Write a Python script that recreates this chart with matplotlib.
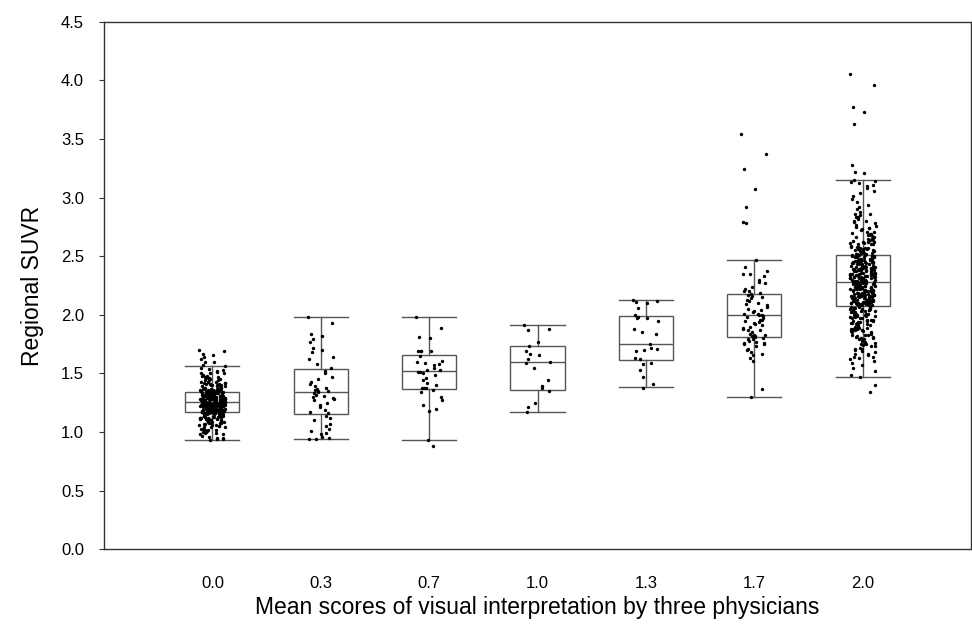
import matplotlib
matplotlib.use("Agg")
import matplotlib.pyplot as plt
import numpy as np

plt.rcParams["font.family"] = ["Liberation Sans", "DejaVu Sans"]

# categories (mean visual score)
categories = ["0.0", "0.3", "0.7", "1.0", "1.3", "1.7", "2.0"]

# box statistics: whislo, q1, med, q3, whishi
box_whislo = [0.935, 0.938, 0.932, 1.168, 1.382, 1.299, 1.472]
box_q1     = [1.173, 1.154, 1.365, 1.359, 1.612, 1.811, 2.073]
box_med    = [1.253, 1.339, 1.521, 1.595, 1.754, 1.996, 2.277]
box_q3     = [1.341, 1.538, 1.660, 1.731, 1.987, 2.180, 2.508]
box_whishi = [1.565, 1.981, 1.981, 1.913, 2.126, 2.468, 3.147]

# individual regional SUVR values per group
suvr_00 = [
    1.70, 1.69, 1.67, 1.66, 1.64, 1.62, 1.60, 1.60,
    1.57, 1.56, 1.55, 1.54, 1.53, 1.52, 1.51, 1.50, 1.50, 1.49, 1.48, 1.48,
    1.47, 1.46, 1.46, 1.45, 1.45, 1.44, 1.44, 1.43, 1.43, 1.42, 1.42, 1.42,
    1.41, 1.41, 1.40, 1.40, 1.40, 1.39, 1.39, 1.39, 1.38, 1.38, 1.38, 1.37,
    1.37, 1.37, 1.37, 1.36, 1.36, 1.36, 1.36, 1.35, 1.35, 1.35, 1.35, 1.35,
    1.34, 1.34, 1.34, 1.34, 1.34,
    1.33, 1.33, 1.33, 1.33, 1.33, 1.33, 1.33, 1.32, 1.32, 1.32, 1.32, 1.32,
    1.32, 1.32, 1.31, 1.31, 1.31, 1.31, 1.31, 1.31, 1.31, 1.30, 1.30, 1.30,
    1.30, 1.30, 1.30, 1.30, 1.29, 1.29, 1.29, 1.29, 1.29, 1.29, 1.29, 1.28,
    1.28, 1.28, 1.28, 1.28, 1.28, 1.28, 1.27, 1.27, 1.27, 1.27, 1.27, 1.27,
    1.26, 1.26, 1.26, 1.26, 1.26, 1.26, 1.25, 1.25, 1.25, 1.25, 1.25, 1.25,
    1.24, 1.24, 1.24, 1.24, 1.24, 1.24, 1.24, 1.23, 1.23, 1.23, 1.23, 1.23,
    1.23, 1.23, 1.22, 1.22, 1.22, 1.22, 1.22, 1.22, 1.22, 1.21, 1.21, 1.21,
    1.21, 1.21, 1.21, 1.21, 1.20, 1.20, 1.20, 1.20, 1.20, 1.20, 1.20, 1.19,
    1.19, 1.19, 1.19, 1.19, 1.19, 1.19, 1.18, 1.18, 1.18, 1.18, 1.18, 1.18,
    1.17, 1.17, 1.17, 1.17, 1.17, 1.17,
    1.17, 1.16, 1.16, 1.16, 1.16, 1.16, 1.15, 1.15, 1.15, 1.15, 1.15, 1.14,
    1.14, 1.14, 1.14, 1.13, 1.13, 1.13, 1.13, 1.12, 1.12, 1.12, 1.11, 1.11,
    1.11, 1.10, 1.10, 1.10, 1.09, 1.09, 1.08, 1.08, 1.08, 1.07, 1.07, 1.06,
    1.06, 1.05, 1.05, 1.04, 1.04, 1.03, 1.03, 1.02, 1.02, 1.01, 1.00, 1.00,
    0.99, 0.99, 0.98, 0.97, 0.96, 0.95, 0.95, 0.94, 0.94, 0.93,
    1.26, 1.27, 1.24, 1.29, 1.21, 1.31, 1.19, 1.33, 1.23, 1.28, 1.25, 1.30,
    1.22, 1.26, 1.35, 1.18, 1.27, 1.24, 1.32, 1.20, 1.29, 1.25, 1.37, 1.16,
    1.28, 1.23, 1.30, 1.21, 1.26, 1.34, 1.14, 1.27, 1.22, 1.39, 1.19, 1.25,
    1.31, 1.24, 1.12, 1.28, 1.26, 1.36, 1.17, 1.29, 1.23, 1.41, 1.20, 1.27,
    1.10, 1.33, 1.25, 1.22, 1.30, 1.15, 1.28, 1.44, 1.24, 1.08, 1.26, 1.32,
    1.21, 1.27, 1.38, 1.19, 1.25, 1.06, 1.29, 1.23, 1.47, 1.13, 1.31, 1.26,
    1.18, 1.35, 1.22, 1.04, 1.28, 1.24, 1.40, 1.16, 1.27, 1.20, 1.33, 1.11,
    1.25, 1.30, 1.02, 1.23, 1.43, 1.26, 1.17, 1.29, 1.21, 1.36, 1.09, 1.28,
    1.24, 1.50, 0.98, 1.25,
]
suvr_03 = [
    1.98, 1.93, 1.84, 1.82, 1.79, 1.77, 1.72, 1.70, 1.68, 1.64, 1.62, 1.58,
    1.55, 1.52, 1.50, 1.47, 1.45, 1.43, 1.41, 1.39, 1.38, 1.37, 1.36, 1.35,
    1.35, 1.34, 1.33, 1.32, 1.31, 1.30, 1.29, 1.28, 1.27, 1.25, 1.23, 1.21,
    1.19, 1.17, 1.16, 1.14, 1.12, 1.10, 1.07, 1.05, 1.03, 1.01, 0.99, 0.98,
    0.96, 0.95, 0.94, 0.94,
]
suvr_07 = [
    1.98, 1.89, 1.81, 1.80, 1.69, 1.69, 1.69, 1.69, 1.65, 1.61, 1.60, 1.59,
    1.58, 1.57, 1.55, 1.53, 1.53, 1.51, 1.51, 1.50, 1.49, 1.46, 1.44, 1.42,
    1.40, 1.38, 1.38, 1.38, 1.36, 1.34, 1.30, 1.27, 1.23, 1.20, 1.18, 0.93,
    0.88,
]
suvr_10 = [
    1.91, 1.88, 1.87, 1.77, 1.73, 1.69, 1.67, 1.66, 1.62, 1.60, 1.59, 1.55,
    1.44, 1.39, 1.38, 1.35, 1.25, 1.21, 1.17,
]
suvr_13 = [
    2.13, 2.12, 2.11, 2.10, 2.06, 2.00, 1.98, 1.97, 1.97, 1.95, 1.88, 1.85,
    1.84, 1.75, 1.72, 1.71, 1.70, 1.69, 1.63, 1.62, 1.59, 1.58, 1.53, 1.47,
    1.41, 1.38,
]
suvr_17 = [
    3.54, 3.37, 3.24, 3.07, 2.92, 2.79, 2.78,
    2.47, 2.41, 2.37, 2.35, 2.35, 2.33, 2.30, 2.28, 2.27, 2.24, 2.22, 2.20,
    2.20, 2.19, 2.18, 2.17, 2.16, 2.15, 2.14, 2.13, 2.12, 2.10, 2.09, 2.08,
    2.07, 2.05, 2.04, 2.03, 2.02, 2.01, 2.01, 2.00, 2.00, 1.99, 1.98, 1.97,
    1.96, 1.96, 1.95, 1.94, 1.93, 1.92, 1.91, 1.90, 1.89, 1.88, 1.87, 1.87,
    1.85, 1.84, 1.83, 1.83, 1.82, 1.82, 1.81, 1.80, 1.79, 1.79, 1.78, 1.77,
    1.76, 1.76, 1.75, 1.75, 1.73, 1.71, 1.70, 1.68, 1.67, 1.66, 1.63, 1.61,
    1.37, 1.30,
]
suvr_20 = [
    4.05, 3.96, 3.77, 3.73, 3.63, 3.28, 3.22, 3.21,
    3.15, 3.14, 3.13, 3.12, 3.11, 3.10, 3.08, 3.06, 3.04, 3.01, 2.99, 2.96,
    2.94, 2.92, 2.90, 2.88, 2.86, 2.85, 2.83, 2.82, 2.80, 2.79, 2.78, 2.76,
    2.75, 2.74, 2.73, 2.72, 2.71, 2.70, 2.69, 2.68, 2.67, 2.66, 2.65, 2.65,
    2.64, 2.63, 2.62, 2.62, 2.61, 2.60, 2.60, 2.59, 2.58, 2.58, 2.57, 2.57,
    2.56, 2.56, 2.55, 2.55, 2.54, 2.54, 2.53, 2.53, 2.52, 2.52, 2.51, 2.51,
    2.50, 2.50, 2.50, 2.49, 2.49, 2.49, 2.48, 2.48, 2.48, 2.47, 2.47, 2.47,
    2.46, 2.46, 2.46, 2.45, 2.45, 2.45, 2.44, 2.44, 2.44, 2.43, 2.43, 2.43,
    2.42, 2.42, 2.42, 2.41, 2.41, 2.41, 2.40, 2.40, 2.40, 2.39, 2.39, 2.39,
    2.38, 2.38, 2.38, 2.37, 2.37, 2.37, 2.36, 2.36, 2.36, 2.35, 2.35, 2.35,
    2.34, 2.34, 2.34, 2.33, 2.33, 2.33, 2.32, 2.32, 2.32, 2.31, 2.31, 2.31,
    2.30, 2.30, 2.30, 2.29, 2.29, 2.29, 2.28, 2.28, 2.28,
    2.27, 2.27, 2.27, 2.26, 2.26, 2.26, 2.25, 2.25, 2.25, 2.24, 2.24, 2.24,
    2.23, 2.23, 2.23, 2.22, 2.22, 2.22, 2.21, 2.21, 2.21, 2.20, 2.20, 2.20,
    2.19, 2.19, 2.19, 2.18, 2.18, 2.18, 2.17, 2.17, 2.17, 2.16, 2.16, 2.16,
    2.16, 2.15, 2.15, 2.15, 2.15, 2.14, 2.14, 2.14, 2.14, 2.13, 2.13, 2.13,
    2.13, 2.12, 2.12, 2.12, 2.12, 2.11, 2.11, 2.11, 2.11, 2.10, 2.10, 2.10,
    2.10, 2.09, 2.09, 2.09, 2.09, 2.08, 2.08, 2.08, 2.08,
    2.07, 2.07, 2.06, 2.06, 2.05, 2.05, 2.04, 2.04, 2.03, 2.03, 2.02, 2.02,
    2.01, 2.01, 2.00, 2.00, 1.99, 1.99, 1.98, 1.98, 1.97, 1.97, 1.96, 1.96,
    1.95, 1.95, 1.94, 1.93, 1.93, 1.92, 1.92, 1.91, 1.90, 1.90, 1.89, 1.88,
    1.88, 1.87, 1.86, 1.86, 1.85, 1.84, 1.83, 1.83, 1.82, 1.81, 1.80, 1.80,
    1.79, 1.78, 1.77, 1.76, 1.76, 1.75, 1.74, 1.73, 1.72, 1.71, 1.70, 1.69,
    1.68, 1.67, 1.66, 1.64, 1.63, 1.62, 1.61, 1.59, 1.57, 1.55, 1.52, 1.49,
    1.47, 1.40, 1.34,
    2.21, 2.35, 2.12, 2.44, 2.27, 2.03, 2.31, 2.18, 2.56, 1.96, 2.24, 2.39,
    2.15, 2.48, 2.29, 1.91, 2.33, 2.20, 2.62, 2.09, 2.26, 2.41, 1.87, 2.17,
    2.52, 2.30, 2.06, 2.37, 2.23, 1.83, 2.45, 2.14, 2.68, 2.28, 2.01, 2.34,
    2.19, 2.58, 1.94, 2.25, 2.42, 2.11, 2.74, 2.32, 1.79, 2.22, 2.49, 2.07,
    2.36, 2.16, 2.64, 1.99, 2.29, 2.40, 1.75, 2.13, 2.54, 2.24, 2.80, 2.04,
    2.33, 2.20, 2.46, 1.89, 2.27, 2.60, 2.10, 2.38, 1.71, 2.23, 2.51, 2.15,
    2.86, 1.97, 2.31, 2.43, 2.08, 2.66, 2.26, 1.85, 2.35, 2.18, 2.57, 2.02,
    2.30, 1.67, 2.47, 2.12, 2.71, 2.25, 1.93, 2.39, 2.21, 2.53, 2.05, 2.77,
    2.32, 1.81, 2.44, 2.17, 2.28, 2.61, 1.95, 2.36, 2.14, 2.50, 1.73, 2.24,
    2.69, 2.00, 2.41, 2.19, 2.83, 1.88, 2.34, 2.55, 2.09, 2.27, 1.64, 2.38,
]
groups = [suvr_00, suvr_03, suvr_07, suvr_10, suvr_13, suvr_17, suvr_20]


def jitter(n, width=0.12):
    # deterministic spread for the strip points
    i = np.arange(n)
    a = (i * i * 0.6180339887 + i * 0.3247) % 1.0
    return width * (2.0 * a - 1.0)


fig = plt.figure(figsize=(9.72, 6.24), dpi=100)
ax = fig.add_axes([104 / 972, (624 - 549.3) / 624,
                   (971 - 104) / 972, (549.3 - 21.7) / 624])

positions = np.arange(1, len(categories) + 1)
stats = []
for k in range(len(categories)):
    stats.append(dict(med=box_med[k], q1=box_q1[k], q3=box_q3[k],
                      whislo=box_whislo[k], whishi=box_whishi[k], fliers=[]))

line_col = "#555555"
ax.bxp(stats, positions=positions, widths=0.5, capwidths=0.5,
       showfliers=False, patch_artist=True,
       boxprops=dict(facecolor="white", edgecolor=line_col, linewidth=1.0),
       medianprops=dict(color=line_col, linewidth=1.0),
       whiskerprops=dict(color=line_col, linewidth=1.0),
       capprops=dict(color=line_col, linewidth=1.0),
       zorder=2)

for pos, vals in zip(positions, groups):
    vals = np.asarray(vals)
    ax.scatter(pos + jitter(len(vals)), vals, s=6, color="black",
               linewidths=0, zorder=3)

ax.set_xlim(0, 8)
ax.set_ylim(0, 4.5)
ax.set_yticks(np.arange(0, 4.51, 0.5))
ax.set_yticklabels([f"{v:.1f}" for v in np.arange(0, 4.51, 0.5)], fontsize=12)
ax.set_xticks(positions)
ax.set_xticklabels(categories, fontsize=12)
ax.tick_params(axis="x", length=0, pad=19)
ax.tick_params(axis="y", length=3.6, width=0.8, pad=10.8, color="#333333")

for sp in ax.spines.values():
    sp.set_color("#333333")
    sp.set_linewidth(1.0)

ax.set_ylabel("Regional SUVR", fontsize=16.5, labelpad=12)
ax.set_xlabel("Mean scores of visual interpretation by three physicians",
              fontsize=16.5, labelpad=4)

fig.savefig("out.png", dpi=100)
